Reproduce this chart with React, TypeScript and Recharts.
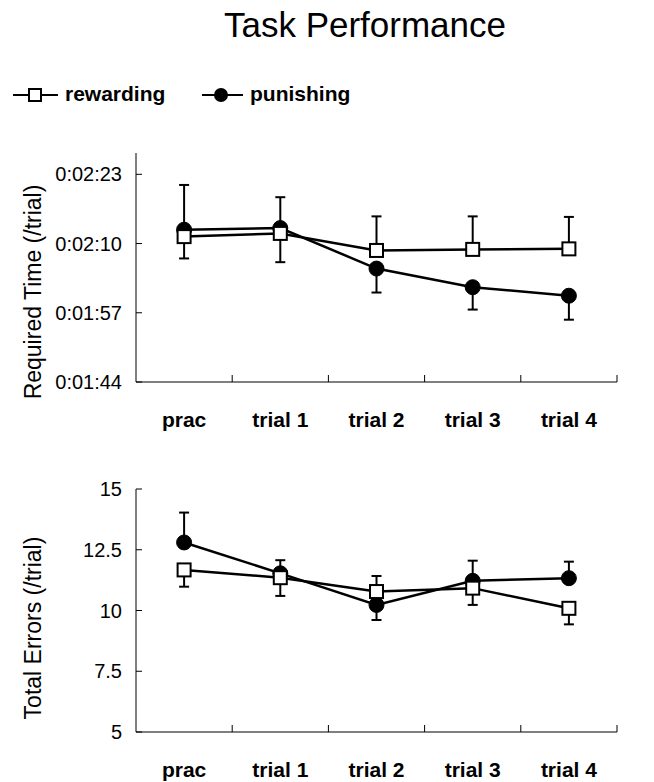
import React from "react";
import { LineChart, Line, XAxis, YAxis, ErrorBar } from "recharts";

// categories on the x axis
const categories = ["prac", "trial 1", "trial 2", "trial 3", "trial 4"];

// required time per trial, in seconds
const timeRewarding = [131.3, 131.9, 128.7, 128.9, 129.0];
const timePunishing = [132.6, 132.9, 125.3, 121.8, 120.2];
const timeRewardingErr = [9.7, 6.8, 6.4, 6.2, 6.0]; // drawn upwards
const timePunishingErr = [5.4, 6.4, 4.5, 4.2, 4.5]; // drawn downwards
const timeTicks = [104, 117, 130, 143];

// total errors per trial
const errRewarding = [11.67, 11.35, 10.78, 10.92, 10.09];
const errPunishing = [12.8, 11.53, 10.23, 11.22, 11.33];
const errRewardingErr = [0.69, 0.75, 1.17, 0.69, 0.66]; // drawn downwards
const errPunishingErr = [1.23, 0.54, 1.19, 0.83, 0.68]; // drawn upwards
const errTicks = [5, 7.5, 10, 12.5, 15];

const FONT = '"Liberation Sans", Arial, sans-serif';
const W = 654;
const LEFT = 136;
const RIGHT = 37;
const band = (W - LEFT - RIGHT) / categories.length;

const timeData = categories.map((c, i) => ({
  x: i + 0.5,
  rew: timeRewarding[i],
  pun: timePunishing[i],
  rewErr: [0, timeRewardingErr[i]],
  punErr: [timePunishingErr[i], 0],
}));

const errData = categories.map((c, i) => ({
  x: i + 0.5,
  rew: errRewarding[i],
  pun: errPunishing[i],
  rewErr: [errRewardingErr[i], 0],
  punErr: [0, errPunishingErr[i]],
}));

const fmtTime = (s) => {
  const m = Math.floor(s / 60);
  const ss = Math.round(s - m * 60);
  return `0:${String(m).padStart(2, "0")}:${String(ss).padStart(2, "0")}`;
};

const CategoryTick = (props) => {
  const { x, y, payload } = props;
  const label = categories[Math.floor(payload.value)];
  return (
    <g>
      <text x={x} y={y + 45} textAnchor="middle" fontSize={21} fontWeight="bold" fontFamily={FONT} fill="#000">
        {label}
      </text>
      <line x1={x + band / 2} x2={x + band / 2} y1={y} y2={y - 7} stroke="#000" strokeWidth={1} />
    </g>
  );
};

const SquareDot = (props) => {
  const { cx, cy, index } = props;
  if (cx == null || cy == null) return <g key={`sq-${index}`} />;
  return (
    <rect key={`sq-${index}`} x={cx - 6.5} y={cy - 6.5} width={13} height={13} fill="#fff" stroke="#000" strokeWidth={2} />
  );
};

const circleDot = { r: 7.5, fill: "#000", stroke: "#000", strokeWidth: 1 };

function Panel({ data, top, height, marginTop, domain, ticks, formatter }) {
  return (
    <div style={{ position: "absolute", left: 0, top }}>
      <LineChart width={W} height={height} data={data} margin={{ top: marginTop, right: RIGHT, left: 0, bottom: 0 }}>
        <XAxis
          dataKey="x"
          type="number"
          domain={[0, categories.length]}
          ticks={categories.map((c, i) => i + 0.5)}
          tick={<CategoryTick />}
          tickLine={false}
          tickSize={0}
          tickMargin={0}
          height={50}
          stroke="#000"
          axisLine={{ stroke: "#000", strokeWidth: 1 }}
        />
        <YAxis
          type="number"
          domain={domain}
          ticks={ticks}
          width={LEFT}
          tickFormatter={formatter}
          tickSize={-6}
          tickMargin={20}
          axisLine={{ stroke: "#000", strokeWidth: 1 }}
          tickLine={{ stroke: "#000", strokeWidth: 1 }}
          tick={{ fontSize: 20, fill: "#000", fontFamily: FONT }}
          interval={0}
          allowDataOverflow
        />
        <Line dataKey="pun" type="linear" stroke="#000" strokeWidth={2.5} dot={circleDot} isAnimationActive={false}>
          <ErrorBar dataKey="punErr" direction="y" width={5} stroke="#000" strokeWidth={2} isAnimationActive={false} />
        </Line>
        <Line dataKey="rew" type="linear" stroke="#000" strokeWidth={2.5} dot={SquareDot} isAnimationActive={false}>
          <ErrorBar dataKey="rewErr" direction="y" width={5} stroke="#000" strokeWidth={2} isAnimationActive={false} />
        </Line>
      </LineChart>
    </div>
  );
}

export default function App() {
  return (
    <div style={{ position: "absolute", left: 0, top: 0, width: W, height: 782, background: "#fff" }}>
      <Panel data={timeData} top={0} height={432} marginTop={153} domain={[104, 147]} ticks={timeTicks} formatter={fmtTime} />
      <Panel data={errData} top={440} height={342} marginTop={49} domain={[5, 15]} ticks={errTicks} formatter={(v) => String(v)} />
      <svg width={W} height={782} style={{ position: "absolute", left: 0, top: 0, pointerEvents: "none" }}>
        <text x={365} y={37} textAnchor="middle" fontSize={35} fontFamily={FONT} fill="#000">
          Task Performance
        </text>
        <g>
          <line x1={13} x2={58} y1={95} y2={95} stroke="#000" strokeWidth={2} />
          <rect x={29} y={89} width={12} height={12} fill="#fff" stroke="#000" strokeWidth={2} />
          <text x={65} y={101} fontSize={21} fontWeight="bold" fontFamily={FONT} fill="#000">
            rewarding
          </text>
          <line x1={202} x2={243} y1={95} y2={95} stroke="#000" strokeWidth={2} />
          <circle cx={221} cy={95} r={7} fill="#000" />
          <text x={250} y={101} fontSize={21} fontWeight="bold" fontFamily={FONT} fill="#000">
            punishing
          </text>
        </g>
        <text x={33} y={292} transform="rotate(-90 33 292)" textAnchor="middle" dominantBaseline="central" fontSize={23} fontFamily={FONT} fill="#000">
          Required Time (/trial)
        </text>
        <text x={33} y={628} transform="rotate(-90 33 628)" textAnchor="middle" dominantBaseline="central" fontSize={23} fontFamily={FONT} fill="#000">
          Total Errors (/trial)
        </text>
      </svg>
    </div>
  );
}
